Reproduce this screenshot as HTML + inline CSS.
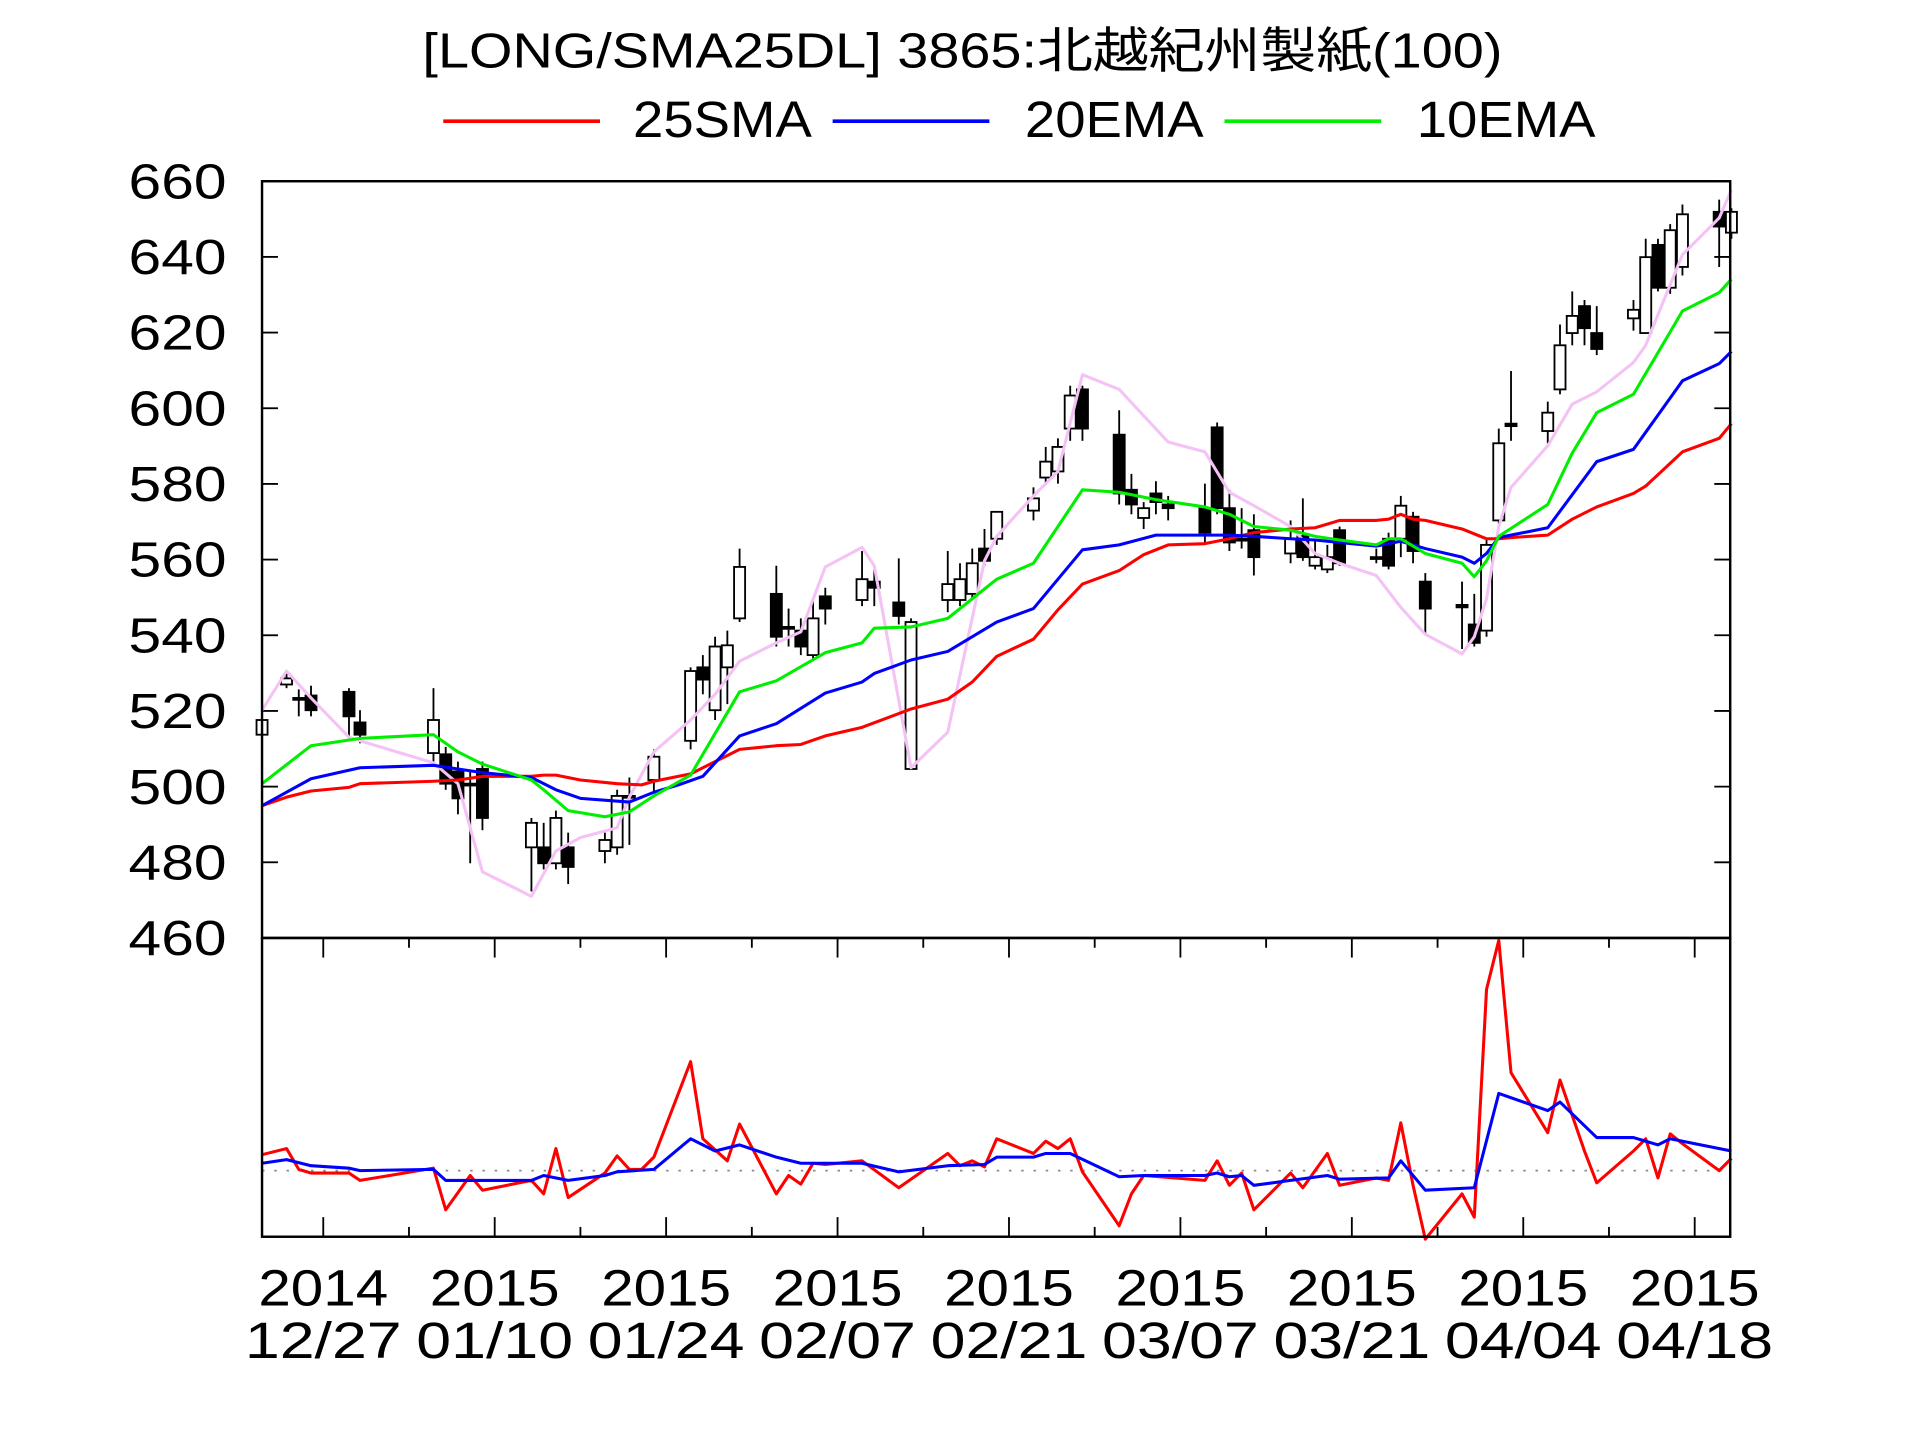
<!DOCTYPE html>
<html><head><meta charset="utf-8"><style>html,body{margin:0;padding:0;background:#fff}svg{display:block}</style></head>
<body>
<svg id="s" xmlns="http://www.w3.org/2000/svg" width="1920" height="1440" viewBox="0 0 1568 1176" font-family="'Liberation Sans','Noto Sans CJK JP',sans-serif">
<rect width="1568" height="1176" fill="#fff"/>
<text x="786" y="55" font-size="40" text-anchor="middle" textLength="882" lengthAdjust="spacingAndGlyphs">[LONG/SMA25DL] 3865:北越紀州製紙(100)</text>
<g font-size="42">
<line x1="362" y1="99" x2="490" y2="99" stroke="#f00" stroke-width="3"/>
<text x="517" y="112" textLength="146" lengthAdjust="spacingAndGlyphs">25SMA</text>
<line x1="680" y1="99" x2="808" y2="99" stroke="#00f" stroke-width="3"/>
<text x="837" y="112" textLength="146" lengthAdjust="spacingAndGlyphs">20EMA</text>
<line x1="1000" y1="99" x2="1128" y2="99" stroke="#0e0" stroke-width="3"/>
<text x="1157" y="112" textLength="146" lengthAdjust="spacingAndGlyphs">10EMA</text>
</g>
<g font-size="40" text-anchor="end" id="ylab"></g>
<g id="grid" stroke="#000" stroke-width="1.5"></g>
<g id="candles" stroke="#000" stroke-width="1.5"></g>
<g fill="none" stroke-width="2.5" stroke-linejoin="round">
<polyline stroke="#f4c2f4" points="214,580 234,548 254,570 285,602 294,605 354,623 374,640 394,712 434,732 454,695 474,684 504,676 514,651 534,614 564,588 584,567 604,540 634,525 654,516 674,463 704,447 714,462 744,627 774,598 804,458 814,438 844,405 864,385 884,306 914,318 954,361 984,369 1004,402 1024,413 1054,430 1074,452 1094,460 1124,470 1144,496 1164,518 1194,534 1204,520 1214,489 1224,430 1234,398 1264,364 1284,330 1304,320 1334,296 1344,282 1354,257 1374,208 1404,178 1414,155"/>
<polyline stroke="#f00" points="214,658 234,651 254,646 285,643 294,640 354,638 374,637 394,634 434,634 444,633 454,633 474,637 504,640 524,641 534,638 564,632 584,622 604,612 634,609 654,608 674,601 704,594 744,579 774,571 794,557 814,536 844,522 864,498 884,477 914,466 934,453 954,445 984,444 1004,440 1024,435 1054,432 1074,431 1094,425 1124,425 1134,424 1144,420 1154,424 1164,425 1194,432 1214,440 1224,440 1234,439 1264,437 1284,424 1304,414 1334,403 1344,397 1374,369 1404,358 1414,346"/>
<polyline stroke="#00f" points="214,658 254,636 294,627 354,625 374,628 394,631 434,635 454,645 474,652 514,655 534,647 554,641 574,634 604,601 634,591 674,566 704,557 714,550 744,539 774,532 814,508 844,497 884,449 914,445 944,437 984,437 1004,437 1024,438 1054,440 1074,441 1094,443 1124,446 1134,444 1144,442 1164,448 1194,455 1204,460 1214,452 1224,439 1264,431 1284,404 1304,377 1334,367 1374,311 1404,297 1414,287"/>
<polyline stroke="#0e0" points="214,640 254,609 294,603 354,600 374,614 394,624 434,637 444,645 464,662 494,667 514,663 534,650 564,633 604,565 634,556 674,533 704,525 714,513 744,512 774,505 814,473 844,460 884,400 914,402 944,408 984,414 1004,420 1024,430 1054,433 1074,438 1094,441 1124,445 1134,440 1144,440 1164,452 1194,460 1204,471 1214,458 1224,438 1264,412 1284,370 1304,337 1334,322 1374,254 1404,239 1414,228"/>
<line x1="214" y1="956" x2="1413" y2="956" stroke="#888" stroke-width="1.5" stroke-dasharray="2,8"/>
<polyline stroke="#f00" points="214,943 234,938 244,955 254,958 285,958 294,964 354,954 364,988 384,960 394,972 434,964 444,975 454,938 464,978 494,958 504,944 514,955 524,955 534,945 564,867 574,930 594,948 604,918 634,975 644,960 654,967 664,950 674,951 704,948 734,970 774,942 784,952 794,948 804,953 814,930 844,942 854,932 864,938 874,930 884,957 914,1001 924,975 934,960 984,964 994,948 1004,968 1014,958 1024,988 1054,958 1064,970 1084,942 1094,968 1124,962 1134,964 1144,917 1154,968 1164,1012 1194,975 1204,994 1214,808 1224,768 1234,876 1264,925 1274,882 1294,940 1304,966 1334,940 1344,930 1354,962 1364,926 1374,934 1404,956 1414,946"/>
<polyline stroke="#00f" points="214,950 234,947 254,952 285,954 294,956 354,955 364,964 394,964 434,964 444,960 464,964 494,960 504,957 534,955 564,930 584,940 604,935 634,945 654,950 704,950 734,957 774,952 804,951 814,945 844,945 854,942 874,942 914,961 934,960 984,960 994,958 1004,961 1014,960 1024,968 1054,964 1084,960 1094,963 1134,962 1144,948 1164,972 1204,970 1224,893 1264,907 1274,900 1304,929 1334,929 1354,935 1364,930 1414,940"/>
</g>
<rect x="214" y="148" width="1199" height="618" fill="none" stroke="#000" stroke-width="2"/>
<rect x="214" y="766" width="1199" height="244" fill="none" stroke="#000" stroke-width="2"/>
<g font-size="42" text-anchor="middle" id="xlab"></g>
<script>
var ns="http://www.w3.org/2000/svg";
function el(p,t,a,txt){var e=document.createElementNS(ns,t);for(var k in a)e.setAttribute(k,a[k]);if(txt)e.textContent=txt;p.appendChild(e);return e;}
var g=document.getElementById('grid');
for(var i=0;i<=10;i++){var y=148+i*61.8;
 el(g,'line',{x1:214,y1:y,x2:227,y2:y});el(g,'line',{x1:1400,y1:y,x2:1413,y2:y});}
for(var i=0;i<9;i++){var x=264+i*140;
 el(g,'line',{x1:x,y1:766,x2:x,y2:782});el(g,'line',{x1:x,y1:994,x2:x,y2:1010});
 if(i<8){var m=x+70;el(g,'line',{x1:m,y1:766,x2:m,y2:774});el(g,'line',{x1:m,y1:1002,x2:m,y2:1010});}}
var c=document.getElementById('candles');
var d=[[214,588,600,580,605,0],[234,554,559,548,562,0],[244,570,571,563,585,1],[254,568,580,560,585,1],[285,565,585,562,605,1],[294,590,600,580,607,1],[354,588,615,562,622,0],[364,616,640,610,645,1],[374,630,652,622,665,1],[384,640,641,630,705,1],[394,628,668,622,678,1],[434,672,692,668,728,0],[444,692,705,672,710,1],[454,668,705,662,710,0],[464,692,708,680,722,1],[494,686,695,680,705,0],[504,650,692,645,698,0],[514,650,651,635,690,1],[534,618,637,612,648,0],[564,548,605,545,612,0],[574,545,555,535,567,1],[584,528,580,520,588,0],[594,527,545,515,575,0],[604,463,505,448,508,0],[634,485,520,462,528,1],[644,512,513,497,528,1],[654,515,528,505,535,1],[664,505,535,490,540,0],[674,487,497,480,510,1],[704,473,490,450,495,0],[714,475,480,465,495,1],[734,492,503,456,510,1],[744,508,628,505,628,0],[774,477,490,450,500,0],[784,473,490,460,495,0],[794,460,485,448,490,0],[804,448,458,432,462,1],[814,418,440,418,445,0],[844,407,417,398,425,0],[854,377,390,365,395,0],[864,365,385,358,395,0],[874,323,350,315,360,0],[884,318,350,315,360,1],[914,355,403,335,412,1],[924,400,412,387,420,1],[934,415,423,410,432,0],[944,403,410,393,420,1],[954,412,415,405,425,1],[984,415,435,395,445,1],[994,349,415,345,420,1],[1004,415,443,400,450,1],[1014,440,441,415,448,1],[1024,433,455,420,470,1],[1054,440,452,425,460,0],[1064,438,455,407,458,1],[1074,455,462,440,465,0],[1084,455,465,445,468,0],[1094,433,460,430,462,1],[1124,455,456,448,460,1],[1134,440,462,435,465,1],[1144,413,440,405,455,0],[1154,422,450,418,460,1],[1164,475,497,468,518,1],[1194,494,496,475,530,1],[1204,510,525,485,528,1],[1214,445,515,440,520,0],[1224,362,425,350,428,0],[1234,346,348,303,360,1],[1264,337,352,328,362,0],[1274,282,318,265,322,0],[1284,258,272,238,282,0],[1294,250,268,245,282,1],[1304,272,285,250,290,1],[1334,253,260,245,270,0],[1344,210,272,195,272,0],[1354,200,235,195,238,1],[1364,188,235,183,240,0],[1374,175,218,167,225,0],[1404,173,185,163,218,1],[1414,173,190,170,195,0]];
d.forEach(function(k){el(c,'line',{x1:k[0],y1:k[3],x2:k[0],y2:k[4]});
 el(c,'rect',{x:k[0]-4.5,y:k[1],width:9,height:Math.max(1.5,k[2]-k[1]),fill:k[5]?'#000':'#fff'});});
var yl=document.getElementById('ylab');
for(var i=0;i<=10;i++){el(yl,'text',{x:185,y:148+i*61.8+14,textLength:80,lengthAdjust:'spacingAndGlyphs'},String(660-20*i));}
var xl=document.getElementById('xlab');
var ds=['12/27','01/10','01/24','02/07','02/21','03/07','03/21','04/04','04/18'];
for(var i=0;i<9;i++){var x=264+i*140;
 el(xl,'text',{x:x,y:1066,textLength:106,lengthAdjust:'spacingAndGlyphs'},i==0?'2014':'2015');
 el(xl,'text',{x:x,y:1109,textLength:128,lengthAdjust:'spacingAndGlyphs'},ds[i]);}
</script>
</svg>
</body></html>
